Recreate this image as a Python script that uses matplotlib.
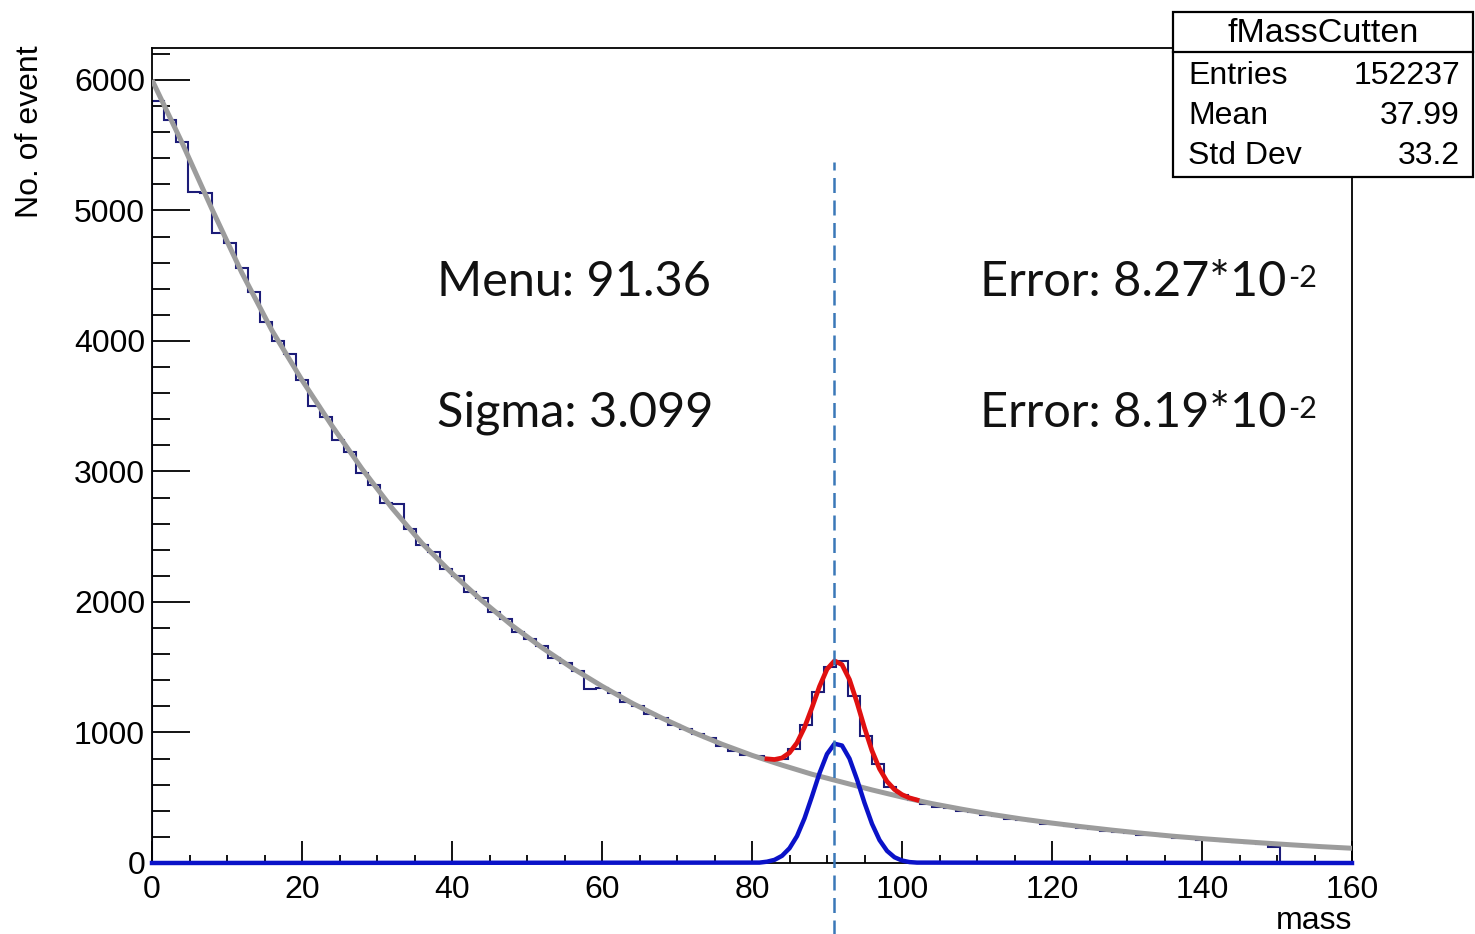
import numpy as np
import matplotlib
matplotlib.use('Agg')
import matplotlib.pyplot as plt
from matplotlib.patches import Rectangle
from matplotlib.lines import Line2D
from matplotlib.ticker import MultipleLocator

plt.rcParams['font.family'] = ['Liberation Sans', 'DejaVu Sans']

# histogram: 100 bins of width 1.6 between 0 and 160 (empty above 150.4)
bin_edges = np.linspace(0, 160, 101)
hist_counts = [
    5840, 5693, 5525, 5142, 5135, 4828, 4750, 4560, 4375, 4146,
    4000, 3900, 3700, 3500, 3420, 3240, 3150, 2990, 2900, 2760,
    2750, 2560, 2440, 2380, 2250, 2200, 2080, 2030, 1920, 1870,
    1770, 1720, 1660, 1570, 1530, 1470, 1330, 1340, 1300, 1235,
    1200, 1140, 1110, 1055, 1030, 990, 955, 900, 860, 830,
    820, 790, 796, 870, 1058, 1310, 1500, 1550, 1280, 975,
    760, 585, 520, 485, 450, 430, 420, 400, 392, 370,
    362, 340, 330, 318, 300, 298, 280, 270, 262, 248,
    240, 230, 218, 215, 204, 195, 188, 180, 178, 165,
    160, 150, 145, 125, 0, 0, 0, 0, 0, 0,
]

# background fit (grey)
bkg_x = list(range(0, 161, 4))
bkg_y = [6000, 5520, 5010, 4520, 4080, 3700, 3350, 3020, 2720, 2450,
         2220, 2010, 1820, 1650, 1495, 1355, 1225, 1110, 1005, 910,
         825, 750, 680, 620, 560, 505, 455, 412, 372, 337,
         306, 278, 252, 228, 206, 187, 170, 154, 139, 125, 113]

# signal gaussian (blue)
sig_x = [0] + list(range(81, 103)) + [160]
sig_y = [0, 3, 10, 24, 55, 113, 206, 342, 511, 688, 835, 914, 900,
         800, 640, 461, 300, 176, 93, 44, 19, 7, 3, 0]

# total fit (red)
tot_x = list(range(82, 103))
tot_y = [798, 793, 805, 845, 921, 1039, 1191, 1353, 1485, 1549, 1520,
         1405, 1230, 1036, 860, 722, 625, 563, 524, 499, 483]

mark_x = 90.9
stats_labels = ['Entries', 'Mean', 'Std Dev']
stats_values = ['152237', '37.99', '33.2']

W, H = 1475, 934
fig = plt.figure(figsize=(W / 100, H / 100), dpi=100)
ax = fig.add_axes([152 / W, 71 / H, 1200 / W, 815 / H])

ax.stairs(hist_counts, bin_edges, color='#1c1c78', lw=1.5, zorder=2)
ax.plot(bkg_x, bkg_y, color='#9c9c9c', lw=3.6, zorder=3, solid_capstyle='butt')
ax.plot(tot_x, tot_y, color='#e01010', lw=3.4, zorder=4)
ax.plot(sig_x, sig_y, color='#0a12c8', lw=3.2, zorder=5, clip_on=False)
ax.axvline(mark_x, ymin=-0.09, ymax=0.86, color='#3a78b8', lw=1.8,
           dashes=(6, 3), clip_on=False, zorder=6)

ax.set_xlim(0, 160)
ax.set_ylim(0, 6245)
ax.xaxis.set_major_locator(MultipleLocator(20))
ax.xaxis.set_minor_locator(MultipleLocator(5))
ax.yaxis.set_major_locator(MultipleLocator(1000))
ax.yaxis.set_minor_locator(MultipleLocator(200))
ax.tick_params(axis='x', which='major', direction='in', length=16, width=1.3,
               labelsize=23, pad=9)
ax.tick_params(axis='x', which='minor', direction='in', length=6, width=1.3)
ax.tick_params(axis='y', which='major', direction='in', length=27, width=1.3,
               labelsize=23, pad=5)
ax.tick_params(axis='y', which='minor', direction='in', length=13, width=1.3)
for s in ax.spines.values():
    s.set_linewidth(1.3)

fig.text(30 / W, 1 - 45 / H, 'No. of event', rotation=90, ha='center',
         va='top', fontsize=23)
fig.text(1352 / W, 1 - 921 / H, 'mass', ha='right', va='center', fontsize=23)

# fit result texts
big = dict(fontsize=35, family=['Lato', 'DejaVu Sans'], color='#111111',
           va='center', ha='left', transform=fig.transFigure)
ax.text(437 / W, 1 - 282 / H, 'Menu: 91.36', **big)
ax.text(437 / W, 1 - 413 / H, 'Sigma: 3.099', **big)
e1 = ax.text(980 / W, 1 - 282 / H, 'Error: 8.27*10', **big)
e2 = ax.text(980 / W, 1 - 413 / H, 'Error: 8.19*10', **big)
for t in (e1, e2):
    ax.annotate('-2', xy=(1, 1), xycoords=t, xytext=(1, -3),
                textcoords='offset points', ha='left', va='top',
                fontsize=22, color='#111111', family=['Lato', 'DejaVu Sans'])

# stats box
box = Rectangle((1173 / W, 1 - 177 / H), 300 / W, 165 / H,
                transform=fig.transFigure, facecolor='white',
                edgecolor='black', lw=1.6, zorder=10)
fig.add_artist(box)
fig.add_artist(Line2D([1173 / W, 1473 / W], [1 - 52 / H, 1 - 52 / H],
                      transform=fig.transFigure, color='black', lw=1.6,
                      zorder=11))
fig.text(1323 / W, 1 - 34 / H, 'fMassCutten', ha='center', va='center',
         fontsize=24.5, zorder=12)
for i, (lab, val) in enumerate(zip(stats_labels, stats_values)):
    yy = 1 - (76 + 40 * i) / H
    fig.text(1188 / W, yy, lab, ha='left', va='center', fontsize=23, zorder=12)
    fig.text(1460 / W, yy, val, ha='right', va='center', fontsize=23, zorder=12)

fig.savefig('out.png', dpi=100)
